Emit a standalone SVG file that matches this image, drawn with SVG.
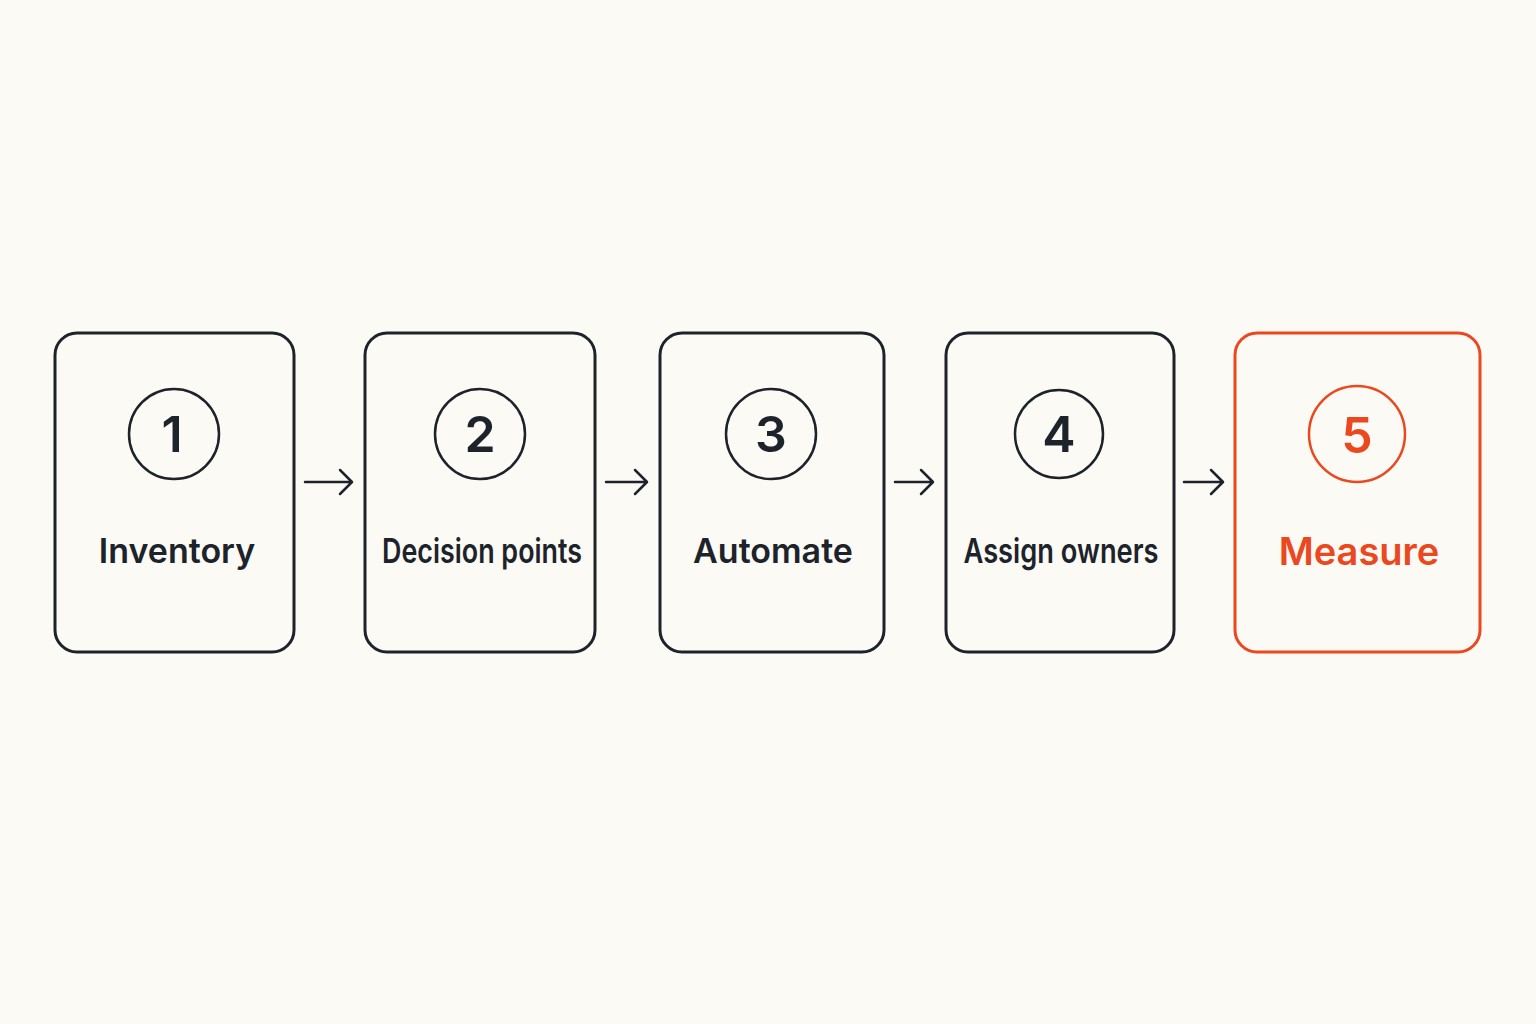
<svg xmlns="http://www.w3.org/2000/svg" width="1536" height="1024" viewBox="0 0 1536 1024">
<style>
.box{fill:none;stroke:#1d232b;stroke-width:3}
.circ{fill:none;stroke:#1d232b;stroke-width:2.5}
.num{font-family:Inter,"Liberation Sans",sans-serif;font-size:50px;font-weight:600;fill:#1d232b;text-anchor:middle}
.lbl{font-family:Inter,"Liberation Sans",sans-serif;font-size:34px;font-weight:600;fill:#1d232b;text-anchor:middle}
.hot .box,.hot .circ{stroke:#ec4820}
.hot .num,.hot .lbl{fill:#ec4820}
.arr{fill:none;stroke:#1d232b;stroke-width:2.5;stroke-linecap:round;stroke-linejoin:round}
</style>
<rect width="1536" height="1024" fill="#fcfaf5"/>
<g id="node1">
<rect class="box" x="55" y="333" width="239" height="319" rx="22"/>
<circle class="circ" cx="174" cy="434" r="45"/>
<text class="num" x="172" y="452">1</text>
<text class="lbl" x="177" y="563">Inventory</text>
</g>
<g id="node2">
<rect class="box" x="365" y="333" width="230" height="319" rx="22"/>
<circle class="circ" cx="480" cy="434" r="45"/>
<text class="num" x="480" y="452">2</text>
<text class="lbl" x="482" y="563" textLength="200" lengthAdjust="spacingAndGlyphs">Decision points</text>
</g>
<g id="node3">
<rect class="box" x="660" y="333" width="224" height="319" rx="22"/>
<circle class="circ" cx="771" cy="434" r="45"/>
<text class="num" x="771" y="452">3</text>
<text class="lbl" x="773" y="563">Automate</text>
</g>
<g id="node4">
<rect class="box" x="946" y="333" width="228" height="319" rx="22"/>
<circle class="circ" cx="1059" cy="434" r="44"/>
<text class="num" x="1059" y="452">4</text>
<text class="lbl" x="1061" y="563" textLength="195" lengthAdjust="spacingAndGlyphs">Assign owners</text>
</g>
<g id="node5" class="hot">
<rect class="box" x="1235" y="333" width="245" height="319" rx="22"/>
<circle class="circ" cx="1357" cy="434" r="48"/>
<text class="num" x="1357" y="453">5</text>
<text class="lbl" x="1359" y="565" style="font-size:38px">Measure</text>
</g>
<g id="connectors">
<path class="arr" d="M305 482H351M340 470L352 482L340 494"/>
<path class="arr" d="M606 482H646M635 470L647 482L635 494"/>
<path class="arr" d="M895 482H932M921 470L933 482L921 494"/>
<path class="arr" d="M1184 482H1222M1211 470L1223 482L1211 494"/>
</g>
</svg>
